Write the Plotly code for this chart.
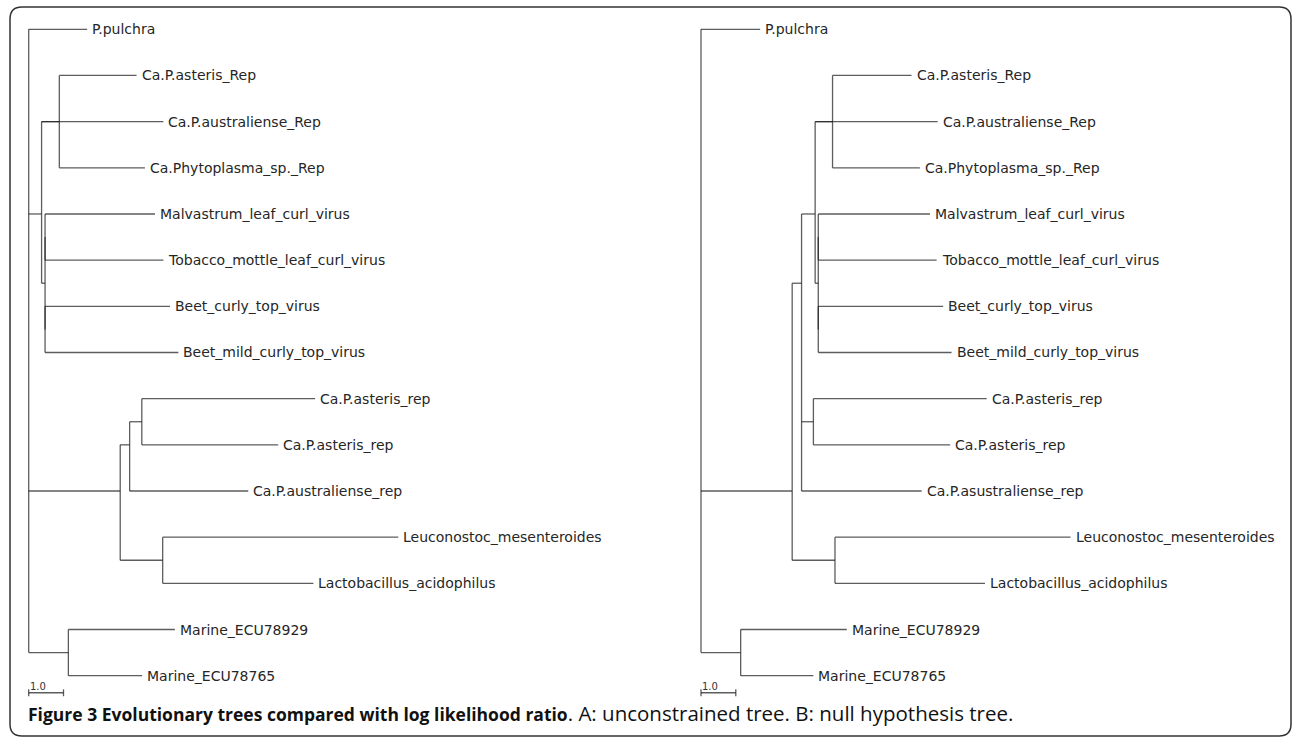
import plotly.graph_objects as go

# ---------------- data ----------------
leaf_ids = ["P", "astR", "ausR", "phyR", "malv", "tob", "bct", "bmct",
            "astr1", "astr2", "ausr", "leuc", "lact", "m29", "m65"]
leaf_labels_a = ["P.pulchra", "Ca.P.asteris_Rep", "Ca.P.australiense_Rep", "Ca.Phytoplasma_sp._Rep",
                 "Malvastrum_leaf_curl_virus", "Tobacco_mottle_leaf_curl_virus", "Beet_curly_top_virus",
                 "Beet_mild_curly_top_virus", "Ca.P.asteris_rep", "Ca.P.asteris_rep",
                 "Ca.P.australiense_rep", "Leuconostoc_mesenteroides", "Lactobacillus_acidophilus",
                 "Marine_ECU78929", "Marine_ECU78765"]
leaf_labels_b = ["P.pulchra", "Ca.P.asteris_Rep", "Ca.P.australiense_Rep", "Ca.Phytoplasma_sp._Rep",
                 "Malvastrum_leaf_curl_virus", "Tobacco_mottle_leaf_curl_virus", "Beet_curly_top_virus",
                 "Beet_mild_curly_top_virus", "Ca.P.asteris_rep", "Ca.P.asteris_rep",
                 "Ca.P.asustraliense_rep", "Leuconostoc_mesenteroides", "Lactobacillus_acidophilus",
                 "Marine_ECU78929", "Marine_ECU78765"]

# tree A (unconstrained): node, parent, branch length
nodes_a   = ["N1", "AP", "astR", "phyR", "ausR", "V", "MT", "malv", "tob", "BB", "bct", "bmct",
             "P", "B", "C", "D", "astr1", "astr2", "ausr", "E", "leuc", "lact", "M", "m29", "m65"]
parents_a = ["root", "N1", "AP", "AP", "N1", "N1", "V", "MT", "MT", "V", "BB", "BB",
             "root", "root", "B", "C", "D", "D", "C", "B", "E", "E", "root", "M", "M"]
branch_a  = [0.37, 0.51, 2.22, 2.46, 3.50, 0.10, 0.00, 3.16, 3.40, 0.00, 3.59, 3.83,
             1.68, 2.63, 0.27, 0.35, 4.98, 3.92, 3.41, 1.22, 6.77, 4.33, 1.14, 3.06, 2.12]

# tree B (null hypothesis)
nodes_b   = ["B1", "B2", "N1", "AP", "astR", "phyR", "ausR", "V", "MT", "malv", "tob", "BB", "bct", "bmct",
             "D", "astr1", "astr2", "ausr", "E", "leuc", "lact", "P", "M", "m29", "m65"]
parents_b = ["root", "B1", "B2", "N1", "AP", "AP", "N1", "N1", "V", "MT", "MT", "V", "BB", "BB",
             "B2", "D", "D", "B2", "B1", "E", "E", "root", "root", "M", "M"]
branch_b  = [2.62, 0.27, 0.39, 0.50, 2.27, 2.51, 3.52, 0.09, 0.00, 3.21, 3.40, 0.00, 3.59, 3.83,
             0.34, 4.98, 3.93, 3.45, 1.23, 6.77, 4.31, 1.70, 1.14, 3.05, 2.09]
row_override_b = {"B1": 10.0}   # attachment row as drawn in the original

scale_bar_length = 1.0
scale_bar_label = "1.0"
caption_bold = "Figure 3 Evolutionary trees compared with log likelihood ratio"
caption_rest = ". A: unconstrained tree. B: null hypothesis tree."

# ---------------- layout helpers ----------------
W, H = 1292, 744
PX_PER_UNIT = 34.8
ROW0_PX, ROW_PX = 29.3, 46.17
ROOT_A_PX, ROOT_B_PX = 28.7, 701.0
LINE_COLOR = "rgba(30,30,30,0.72)"


def layout_tree(nodes, parents, branch, override=None):
    override = override or {}
    par = dict(zip(nodes, parents))
    bl = dict(zip(nodes, branch))
    children = {}
    for n, p in zip(nodes, parents):
        children.setdefault(p, []).append(n)
    depth = {"root": 0.0}

    def get_depth(n):
        if n not in depth:
            depth[n] = get_depth(par[n]) + bl[n]
        return depth[n]
    for n in nodes:
        get_depth(n)
    rowmap = {lid: i for i, lid in enumerate(leaf_ids)}

    def leaves_of(n):
        if n in rowmap:
            return [rowmap[n]]
        out = []
        for c in children.get(n, []):
            out += leaves_of(c)
        return out
    y = {}
    for n in ["root"] + nodes:
        if n in override:
            y[n] = override[n]
        else:
            lv = leaves_of(n)
            y[n] = sum(lv) / len(lv)
    segs = []
    for n in nodes:
        segs.append(((depth[par[n]], depth[n]), (y[n], y[n])))
    for n, ch in children.items():
        ys = [y[c] for c in ch]
        segs.append(((depth[n], depth[n]), (min(ys), max(ys))))
    return depth, y, segs


fig = go.Figure()
annotations = []

trees = [
    (nodes_a, parents_a, branch_a, {}, leaf_labels_a, "x", "y"),
    (nodes_b, parents_b, branch_b, row_override_b, leaf_labels_b, "x2", "y2"),
]
for nodes, parents, branch, ov, labels, xr, yr in trees:
    depth, y, segs = layout_tree(nodes, parents, branch, ov)
    for xs, ys in segs:
        fig.add_trace(go.Scatter(x=list(xs), y=list(ys), mode="lines", xaxis=xr, yaxis=yr,
                                 line=dict(color=LINE_COLOR, width=1.3), hoverinfo="skip",
                                 showlegend=False))
    for lid, lab in zip(leaf_ids, labels):
        annotations.append(dict(x=depth[lid], y=y[lid], xref=xr, yref=yr, text=lab,
                                showarrow=False, xanchor="left", yanchor="middle", xshift=3,
                                font=dict(family="DejaVu Sans", size=14, color="#262626")))
    # scale bar
    bar_row = 14.37
    tick = 0.075
    fig.add_trace(go.Scatter(x=[0, scale_bar_length, None, 0, 0, None, scale_bar_length, scale_bar_length],
                             y=[bar_row, bar_row, None, bar_row - tick, bar_row + tick, None,
                                bar_row - tick, bar_row + tick],
                             mode="lines", xaxis=xr, yaxis=yr,
                             line=dict(color=LINE_COLOR, width=1.3), hoverinfo="skip", showlegend=False))
    annotations.append(dict(x=0, y=14.235, xref=xr, yref=yr, text=scale_bar_label, showarrow=False,
                            xanchor="left", yanchor="middle", xshift=-1,
                            font=dict(family="DejaVu Sans", size=10, color="#333")))

annotations.append(dict(x=26 / W, y=1 - 713 / H, xref="paper", yref="paper",
                        text="<b>" + caption_bold + "</b>"
                             + "<span style='font-size:20.5px'>" + caption_rest + "</span>",
                        showarrow=False, xanchor="left", yanchor="middle",
                        font=dict(family="Open Sans", size=17.5, color="#111")))


def xrange_for(p0, p1, root):
    return [(p0 - root) / PX_PER_UNIT, (p1 - root) / PX_PER_UNIT]


yrange = [(H - ROW0_PX) / ROW_PX, (0 - ROW0_PX) / ROW_PX]

# rounded border (paper coords)
x0, y0, x1, y1, r = 10, 7, 1291, 736, 12


def P(px, py):
    return f"{px / W:.5f},{1 - py / H:.5f}"


border = (f"M {P(x0 + r, y0)} L {P(x1 - r, y0)} Q {P(x1, y0)} {P(x1, y0 + r)} "
          f"L {P(x1, y1 - r)} Q {P(x1, y1)} {P(x1 - r, y1)} L {P(x0 + r, y1)} "
          f"Q {P(x0, y1)} {P(x0, y1 - r)} L {P(x0, y0 + r)} Q {P(x0, y0)} {P(x0 + r, y0)} Z")

fig.update_layout(
    width=W, height=H, margin=dict(l=0, r=0, t=0, b=0),
    paper_bgcolor="white", plot_bgcolor="white",
    xaxis=dict(domain=[0, 0.5], range=xrange_for(0, 646, ROOT_A_PX), visible=False, anchor="y"),
    xaxis2=dict(domain=[0.5, 1], range=xrange_for(646, 1292, ROOT_B_PX), visible=False, anchor="y2"),
    yaxis=dict(domain=[0, 1], range=yrange, visible=False, anchor="x"),
    yaxis2=dict(domain=[0, 1], range=yrange, visible=False, anchor="x2"),
    annotations=annotations,
    shapes=[dict(type="path", path=border, xref="paper", yref="paper",
                 line=dict(color="#333", width=1.5), fillcolor="rgba(0,0,0,0)")],
    showlegend=False,
)

fig.write_html("out.html", config={"displayModeBar": False},
               post_script="document.body.style.margin='0';document.body.style.overflow='hidden';")
